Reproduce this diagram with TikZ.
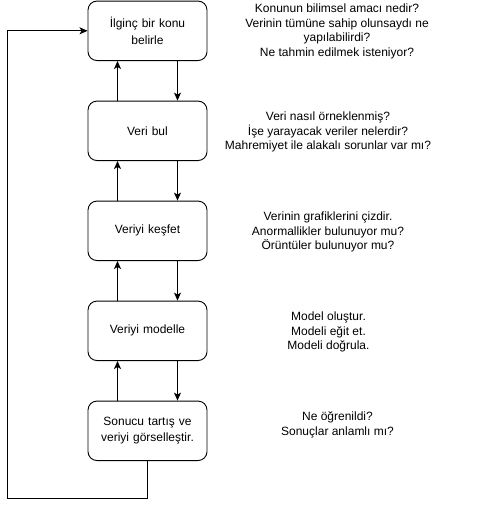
\documentclass[tikz,border=0pt]{standalone}
\usepackage{fontspec}
\setmainfont{Liberation Sans}
\usetikzlibrary{arrows.meta}
\begin{document}
\begin{tikzpicture}[x=1pt,y=-1pt,
  stepbox/.style={draw, line width=0.9pt, rounded corners=9pt, minimum width=119pt, minimum height=59.5pt, align=center, text width=112pt, font=\fontsize{12}{16.5}\selectfont, inner sep=0pt},
  note/.style={align=center, font=\fontsize{12}{14.5}\selectfont, inner sep=0pt},
  conn/.style={line width=0.9pt, -{Stealth[length=8pt,width=7pt,inset=2pt]}}]
\useasboundingbox (0,0) rectangle (489,509);
\node[stepbox] (b1) at (147.5,30.8) {İlginç bir konu\\belirle};
\node[stepbox] (b2) at (147.5,130.8) {Veri bul};
\node[stepbox] (b3) at (147.5,230.8) {Veriyi keşfet};
\node[stepbox] (b4) at (147.5,330.8) {Veriyi modelle};
\node[stepbox] (b5) at (147.5,430.8) {Sonucu tartış ve\\veriyi görselleştir.};
\foreach \a/\b in {b1/b2,b2/b3,b3/b4,b4/b5}{
  \draw[conn] ([xshift=-30pt]\b.north) -- ([xshift=-30pt]\a.south);
  \draw[conn] ([xshift=30pt]\a.south) -- ([xshift=30pt]\b.north);
}
\coordinate (lp) at (7.5,498.5);
\draw[conn] (b5.south) |- (lp) |- (b1.west);
\node[note] (t1) at (337,31.5) {Konunun bilimsel amacı nedir?\\Verinin tümüne sahip olunsaydı ne\\yapılabilirdi?\\Ne tahmin edilmek isteniyor?};
\node[note] (t2) at (328,132) {Veri nasıl örneklenmiş?\\İşe yarayacak veriler nelerdir?\\Mahremiyet ile alakalı sorunlar var mı?};
\node[note] (t3) at (328,232) {Verinin grafiklerini çizdir.\\Anormallikler bulunuyor mu?\\Örüntüler bulunuyor mu?};
\node[note] (t4) at (328.5,332) {Model oluştur.\\Modeli eğit et.\\Modeli doğrula.};
\node[note] (t5) at (337.5,425) {Ne öğrenildi?\\Sonuçlar anlamlı mı?};
\end{tikzpicture}
\end{document}
